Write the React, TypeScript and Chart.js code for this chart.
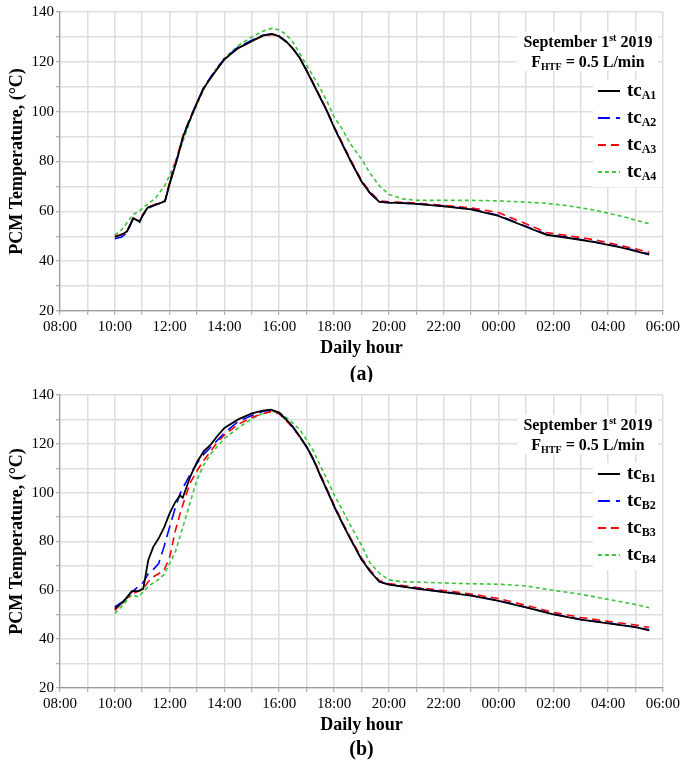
import React, { useEffect, useRef } from 'react';
import { Chart, registerables } from 'chart.js';
Chart.register(...registerables);

// ---------- Panel (a) data: hours since midnight (values > 24 are next day) ----------
const hoursA = [10.0, 10.25, 10.45, 10.67, 10.9, 11.0, 11.2, 11.5, 11.83, 12.0, 12.25, 12.5, 12.75, 13.0, 13.25, 13.5, 13.75, 14.0, 14.5, 15.0, 15.4, 15.75, 16.0, 16.25, 16.5, 16.75, 17.0, 17.25, 17.5, 17.75, 18.0, 18.3, 18.6, 19.0, 19.3, 19.65, 20.0, 20.5, 21.0, 22.0, 23.0, 24.0, 25.0, 25.75, 26.5, 27.5, 28.5, 29.5];
const tcA1 = [49.7, 50.6, 52.0, 57.3, 55.8, 58.0, 61.5, 62.7, 64.0, 71.0, 80.0, 90.2, 97.0, 103.5, 109.5, 113.5, 117.3, 121.0, 125.5, 128.3, 130.5, 131.2, 130.2, 128.2, 125.3, 121.5, 116.4, 111.0, 105.5, 100.0, 93.7, 87.0, 80.3, 72.0, 67.5, 63.8, 63.5, 63.3, 63.0, 62.0, 60.8, 58.2, 53.8, 50.6, 49.4, 47.6, 45.4, 42.6];
const tcA2 = [49.0, 49.7, 51.5, 57.0, 55.6, 58.0, 61.3, 62.6, 64.0, 71.2, 80.3, 90.5, 97.3, 103.8, 109.8, 113.9, 117.7, 121.3, 125.9, 128.7, 130.7, 131.3, 130.2, 128.2, 125.3, 121.5, 116.4, 111.0, 105.5, 100.0, 93.7, 87.0, 80.3, 72.0, 67.5, 63.8, 63.5, 63.3, 63.0, 62.1, 60.9, 58.4, 54.0, 50.8, 49.6, 47.8, 45.6, 42.9];
const tcA3 = [50.0, 50.8, 52.3, 57.0, 56.2, 58.3, 61.6, 62.9, 64.2, 72.0, 81.0, 90.8, 97.5, 103.8, 109.7, 113.7, 117.4, 121.0, 125.5, 128.3, 130.4, 131.0, 130.0, 128.0, 125.2, 121.6, 116.7, 111.3, 105.8, 100.3, 94.0, 87.5, 80.8, 72.5, 68.0, 64.2, 63.8, 63.6, 63.3, 62.4, 61.4, 59.5, 55.0, 51.5, 50.3, 48.6, 46.2, 43.6];
const tcA4 = [50.5, 52.6, 55.5, 58.8, 60.0, 61.3, 62.8, 65.5, 70.5, 74.5, 81.0, 88.5, 96.5, 103.0, 109.0, 114.0, 118.0, 121.5, 126.5, 130.0, 132.3, 133.5, 132.8, 131.0, 127.9, 123.3, 118.6, 114.0, 109.3, 104.0, 98.0, 93.0, 87.0, 81.0, 75.5, 70.3, 66.8, 65.0, 64.4, 64.4, 64.4, 64.2, 63.7, 63.2, 62.3, 60.5, 58.0, 55.0];

// ---------- Panel (b) data ----------
const hoursB = [10.0, 10.3, 10.62, 10.86, 11.04, 11.22, 11.4, 11.6, 11.8, 12.0, 12.2, 12.38, 12.48, 12.75, 13.0, 13.25, 13.5, 13.75, 14.0, 14.5, 15.0, 15.4, 15.7, 16.0, 16.25, 16.5, 16.75, 17.0, 17.25, 17.5, 17.75, 18.0, 18.3, 18.6, 19.0, 19.3, 19.65, 20.0, 20.5, 21.0, 22.0, 23.0, 24.0, 25.0, 26.0, 27.0, 28.0, 29.0, 29.5];
const tcB1 = [52.5, 55.2, 59.7, 59.7, 60.7, 72.3, 77.7, 81.3, 85.8, 91.5, 96.0, 98.9, 97.9, 106.5, 112.6, 117.0, 119.7, 123.3, 126.5, 130.0, 132.5, 133.6, 134.0, 132.8, 130.0, 127.0, 123.0, 118.8, 113.5, 107.0, 100.8, 94.5, 87.5, 81.0, 72.7, 68.0, 63.5, 62.3, 61.5, 60.7, 59.3, 57.8, 55.7, 53.0, 50.2, 48.0, 46.5, 44.9, 43.6];
const tcB2 = [53.2, 55.5, 59.3, 61.5, 63.3, 66.8, 68.5, 71.0, 78.0, 86.0, 93.5, 99.5, 101.8, 107.5, 112.0, 115.8, 118.6, 121.6, 124.5, 129.2, 131.6, 133.3, 133.9, 132.6, 129.8, 126.8, 122.8, 118.6, 113.3, 106.9, 100.7, 94.4, 87.5, 81.0, 72.7, 68.0, 63.6, 62.4, 61.6, 60.8, 59.4, 57.9, 55.8, 53.1, 50.3, 48.1, 46.6, 45.0, 43.8];
const tcB3 = [51.8, 55.5, 58.5, 59.6, 60.6, 63.5, 65.5, 66.8, 68.3, 73.5, 84.0, 91.4, 95.0, 104.0, 109.0, 113.3, 117.0, 120.8, 123.6, 128.0, 130.8, 132.4, 133.2, 132.3, 129.5, 126.6, 122.8, 118.8, 113.8, 107.5, 101.3, 95.0, 88.0, 81.5, 73.3, 68.5, 64.0, 62.8, 62.0, 61.2, 59.9, 58.5, 56.6, 53.9, 51.0, 48.9, 47.3, 45.8, 44.8];
const tcB4 = [50.5, 54.0, 58.2, 57.3, 59.5, 61.5, 63.0, 64.5, 66.5, 71.0, 75.5, 82.0, 85.8, 96.0, 105.3, 111.5, 115.8, 119.0, 122.2, 126.5, 130.2, 132.5, 133.3, 132.8, 130.8, 128.5, 125.8, 121.6, 117.0, 111.0, 105.3, 99.3, 93.0, 86.6, 78.5, 71.5, 67.0, 64.3, 63.5, 63.4, 63.0, 62.7, 62.5, 61.8, 60.0, 58.4, 56.3, 54.2, 52.9];

const seriesColors = ['#000000', '#0000ff', '#ff0000', '#3cc43c'];
const seriesDashes: number[][] = [[], [12, 6], [8, 5], [4, 3]];
const seriesWidths = [1.8, 1.6, 1.6, 1.6];

const SERIF = '"Liberation Serif", "Times New Roman", serif';

type PanelProps = {
  hours: number[];
  series: number[][];
  group: string; // 'A' or 'B'
  panel: string; // '(a)' or '(b)'
  height: number;
  padTop: number;
  padBottom: number;
  letterOffset: number;
};

function fmtHour(v: number) {
  const h = Math.round(v);
  if (h % 2 !== 0) return '';
  const hh = ((h % 24) + 24) % 24;
  return (hh < 10 ? '0' : '') + hh + ':00';
}

function Panel(props: PanelProps) {
  const ref = useRef<HTMLCanvasElement | null>(null);
  useEffect(() => {
    const canvas = ref.current;
    if (!canvas) return;
    const { hours, series, group, panel, letterOffset } = props;

    const overlay = {
      id: 'overlay' + group,
      beforeDatasetsDraw(chart: any) {
        const { ctx } = chart;
        const { top, right } = chart.chartArea;
        ctx.save();
        ctx.fillStyle = '#ffffff';
        ctx.fillRect(right - 146, top + 20, 141, 39);
        ctx.fillRect(right - 70, top + 68, 69, 107);
        ctx.restore();
      },
      afterDraw(chart: any) {
        const { ctx } = chart;
        const { top, right, left, bottom } = chart.chartArea;
        ctx.save();
        ctx.fillStyle = '#000';
        ctx.textBaseline = 'middle';
        ctx.textAlign = 'left';
        // Title line 1: September 1st 2019
        const big = 'bold 16px ' + SERIF;
        const small = 'bold 10px ' + SERIF;
        const cx = right - 75;
        const y1 = top + 31;
        const p1 = 'September 1', p2 = 'st', p3 = ' 2019';
        ctx.font = big; const w1 = ctx.measureText(p1).width; const w3 = ctx.measureText(p3).width;
        ctx.font = small; const w2 = ctx.measureText(p2).width;
        let x = cx - (w1 + w2 + w3) / 2;
        ctx.font = big; ctx.fillText(p1, x, y1); x += w1;
        ctx.font = small; ctx.fillText(p2, x, y1 - 5); x += w2;
        ctx.font = big; ctx.fillText(p3, x, y1);
        // Title line 2: F_HTF = 0.5 L/min
        const y2 = top + 51;
        const q1 = 'F', q2 = 'HTF', q3 = ' = 0.5 L/min';
        ctx.font = big; const v1 = ctx.measureText(q1).width; const v3 = ctx.measureText(q3).width;
        ctx.font = small; const v2 = ctx.measureText(q2).width;
        x = cx - (v1 + v2 + v3) / 2;
        ctx.font = big; ctx.fillText(q1, x, y2); x += v1;
        ctx.font = small; ctx.fillText(q2, x, y2 + 4); x += v2;
        ctx.font = big; ctx.fillText(q3, x, y2);
        // Legend
        for (let i = 0; i < 4; i++) {
          const y = top + 79 + i * 27;
          ctx.save();
          ctx.strokeStyle = seriesColors[i];
          ctx.lineWidth = 2;
          ctx.setLineDash(seriesDashes[i]);
          ctx.beginPath();
          ctx.moveTo(right - 65, y);
          ctx.lineTo(right - 43, y);
          ctx.stroke();
          ctx.restore();
          ctx.fillStyle = '#000';
          ctx.font = 'bold 19px ' + SERIF;
          const tx = right - 36;
          ctx.fillText('tc', tx, y);
          const tw = ctx.measureText('tc').width;
          ctx.font = 'bold 12px ' + SERIF;
          ctx.fillText(group + (i + 1), tx + tw, y + 5);
        }
        // Panel letter
        ctx.textAlign = 'center';
        ctx.font = 'bold 20px ' + SERIF;
        ctx.fillText(panel, (left + right) / 2, bottom + letterOffset);
        ctx.restore();
      },
    };

    const datasets = series.map((vals, i) => ({
      label: 'tc' + group + (i + 1),
      data: hours.map((h, j) => ({ x: h, y: vals[j] })),
      borderColor: seriesColors[i],
      backgroundColor: seriesColors[i],
      borderWidth: seriesWidths[i],
      borderDash: seriesDashes[i],
      pointRadius: 0,
      tension: 0,
      fill: false,
      order: i,
    }));

    const chart = new Chart(canvas, {
      type: 'line',
      data: { datasets },
      plugins: [overlay],
      options: {
        responsive: false,
        maintainAspectRatio: false,
        animation: false,
        devicePixelRatio: 1,
        layout: { padding: { left: 0, right: 20, top: props.padTop, bottom: props.padBottom } },
        plugins: { legend: { display: false }, tooltip: { enabled: false } },
        scales: {
          x: {
            type: 'linear',
            min: 8,
            max: 30,
            afterFit: (s: any) => { s.height = 48; },
            ticks: {
              stepSize: 1,
              autoSkip: false,
              maxRotation: 0,
              padding: 3,
              color: '#000',
              font: { family: SERIF, size: 15 },
              callback: (v: any) => fmtHour(Number(v)),
            },
            grid: { color: '#dedede', lineWidth: 1.5, tickLength: 4, tickColor: '#9a9a9a', tickWidth: 1 },
            border: { display: true, color: '#9a9a9a', width: 1.2 },
            title: {
              display: true,
              text: 'Daily hour',
              color: '#000',
              font: { family: SERIF, size: 18, weight: 'bold' },
              padding: { top: 0, bottom: 0 },
            },
          },
          y: {
            type: 'linear',
            min: 20,
            max: 140,
            afterFit: (s: any) => { s.width = 60; },
            ticks: {
              stepSize: 10,
              padding: 2,
              color: '#000',
              font: { family: SERIF, size: 15 },
              callback: (v: any) => (Number(v) % 20 === 0 ? String(v) : ''),
            },
            grid: { color: '#dedede', lineWidth: 1.5, tickLength: 4, tickColor: '#9a9a9a', tickWidth: 1 },
            border: { display: true, color: '#9a9a9a', width: 1.2 },
            title: {
              display: true,
              text: 'PCM Temperature, (°C)',
              color: '#000',
              font: { family: SERIF, size: 18, weight: 'bold' },
              padding: { top: 7, bottom: 0 },
            },
          },
        },
      } as any,
    });
    return () => chart.destroy();
  }, []);
  return (
    <canvas
      ref={ref}
      width={683}
      height={props.height}
      style={{ display: 'block', width: 683, height: props.height }}
    />
  );
}

export default function App() {
  return (
    <div style={{ position: 'absolute', left: 0, top: 0, width: 683, height: 764, background: '#fff' }}>
      <Panel hours={hoursA} series={[tcA1, tcA2, tcA3, tcA4]} group="A" panel="(a)" height={382} padTop={12} padBottom={23} letterOffset={64} />
      <Panel hours={hoursB} series={[tcB1, tcB2, tcB3, tcB4]} group="B" panel="(b)" height={382} padTop={13} padBottom={28} letterOffset={62} />
    </div>
  );
}
